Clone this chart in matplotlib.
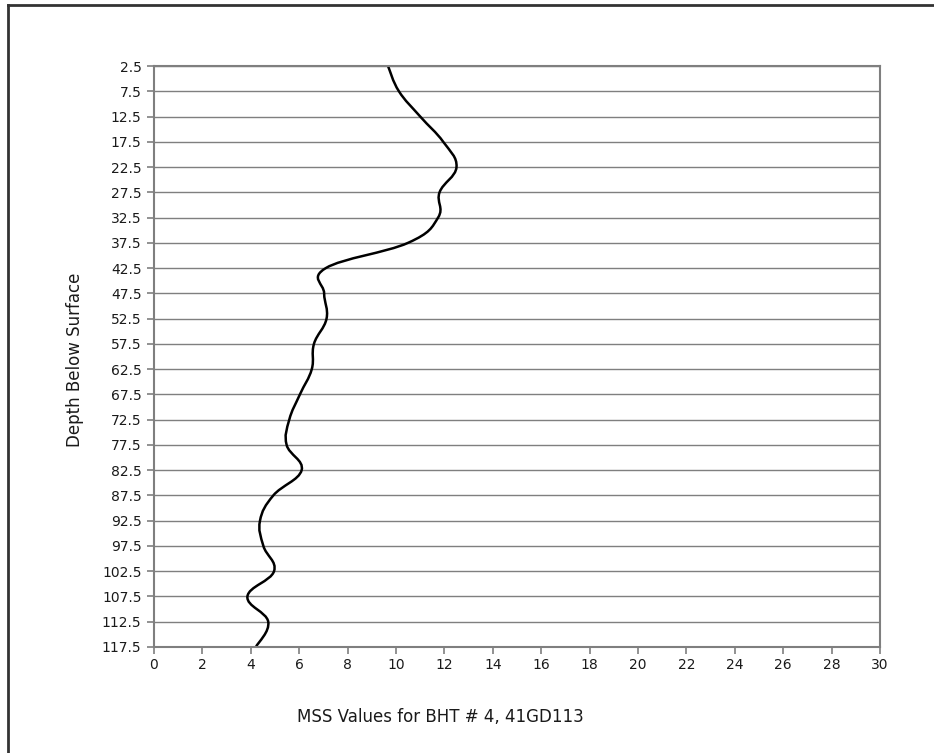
import numpy as np
import matplotlib
matplotlib.use("Agg")
import matplotlib.pyplot as plt
from matplotlib.path import Path
from matplotlib.patches import PathPatch
from matplotlib.lines import Line2D

# depth categories (top to bottom) and MSS values
depths = [2.5, 7.5, 12.5, 17.5, 22.5, 27.5, 32.5, 37.5, 42.5, 47.5, 52.5, 57.5,
          62.5, 67.5, 72.5, 77.5, 82.5, 87.5, 92.5, 97.5, 102.5, 107.5, 112.5, 117.5]
mss = [9.67, 10.12, 11.0, 11.95, 12.5, 11.8, 11.74, 10.5, 7.1, 7.03, 7.13, 6.61,
       6.52, 6.03, 5.59, 5.48, 6.1, 4.93, 4.38, 4.52, 4.96, 3.86, 4.72, 4.21]
x_ticks = list(range(0, 31, 2))


def smooth_path(xs, ys, tension=0.6):
    # Excel-like smoothed line: Catmull-Rom segments as cubic beziers
    pts = np.column_stack([xs, ys])
    verts = [pts[0]]
    codes = [Path.MOVETO]
    n = len(pts)
    for i in range(n - 1):
        p0 = pts[i - 1] if i > 0 else pts[i]
        p1 = pts[i]
        p2 = pts[i + 1]
        p3 = pts[i + 2] if i + 2 < n else pts[i + 1]
        c1 = p1 + (p2 - p0) * tension / 3
        c2 = p2 - (p3 - p1) * tension / 3
        verts += [c1, c2, p2]
        codes += [Path.CURVE4] * 3
    return Path(verts, codes)


fig = plt.figure(figsize=(9.34, 7.53), dpi=100)
ax = fig.add_axes([154 / 934, 1 - 647 / 753, 726 / 934, 581 / 753])

grey = "#7f7f7f"
ax.set_xlim(0, 30)
ax.set_ylim(117.5, 2.5)
ax.set_xticks(x_ticks)
ax.set_yticks(depths)
ax.set_yticklabels([f"{d:g}" for d in depths])
ax.yaxis.grid(True, color=grey, linewidth=1.0)
ax.set_axisbelow(True)
for s in ax.spines.values():
    s.set_color(grey)
    s.set_linewidth(1.5)
ax.tick_params(axis="both", colors=grey, length=5, width=1.2, labelsize=10,
               labelcolor="#1a1a1a")
ax.tick_params(axis="y", pad=4)
ax.tick_params(axis="x", pad=3)

ax.add_patch(PathPatch(smooth_path(mss, depths), facecolor="none",
                       edgecolor="black", linewidth=1.8, transform=ax.transData))

fig.text(75 / 934, 1 - 360 / 753, "Depth Below Surface", rotation=90,
         ha="center", va="center", fontsize=12, color="#1a1a1a")
fig.text(440 / 934, 1 - 717 / 753, "MSS Values for BHT # 4, 41GD113",
         ha="center", va="center", fontsize=12, color="#1a1a1a")

# outer chart border (left and top edges visible)
fig.add_artist(Line2D([8 / 934, 8 / 934], [0, 1 - 5 / 753], transform=fig.transFigure,
                      color="#333333", linewidth=2))
fig.add_artist(Line2D([8 / 934, 1], [1 - 5 / 753, 1 - 5 / 753], transform=fig.transFigure,
                      color="#333333", linewidth=2))

fig.savefig("out.png", dpi=100)
